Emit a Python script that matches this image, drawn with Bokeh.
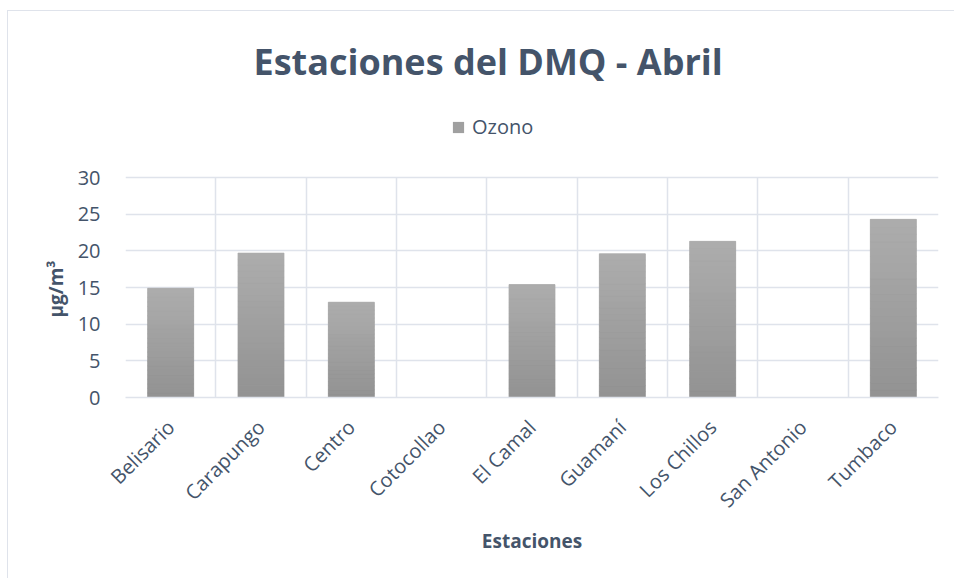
import numpy as np
from bokeh.plotting import figure
from bokeh.models import (Range1d, FixedTicker, Label, Legend, LegendItem, Title)
from bokeh.embed import file_html
from bokeh.resources import INLINE

# ---- data ----
stations = ["Belisario", "Carapungo", "Centro", "Cotocollao", "El Camal",
            "Guamaní", "Los Chillos", "San Antonio", "Tumbaco"]
ozono = [14.9, 19.7, 13.0, np.nan, 15.4, 19.6, 21.3, np.nan, 24.3]
y_ticks = [0, 5, 10, 15, 20, 25, 30]
title_text = "Estaciones del DMQ - Abril"
series_name = "Ozono"
x_title = "Estaciones"
y_title = "µg/m³"

TXT = "#44546A"
GRID = "#dfe3eb"
FONT = "Open Sans"

n = len(stations)
xs = np.arange(n) + 0.5
vals = np.array(ozono, dtype=float)
y_max = y_ticks[-1]

# layout (page pixels): plot area 125..938 x 177..397; figure canvas starts at (8, 11)
W, H = 947, 568
frame_left, frame_right, frame_bottom, plot_top = 125, 938, 397, 177
canvas_x0, canvas_y0 = 8, 11
px_per_y = (frame_bottom - plot_top) / y_max
px_per_x = (frame_right - frame_left) / n
# frame extends up to the canvas top so the title/legend can live inside it
y_end = y_max + (plot_top - canvas_y0) / px_per_y

p = figure(width=W, height=H, output_backend="svg", toolbar_location=None,
           x_range=Range1d(0, n), y_range=Range1d(0, y_end),
           min_border_left=frame_left - canvas_x0,
           min_border_right=W - (frame_right - canvas_x0),
           min_border_top=0,
           min_border_bottom=H - (frame_bottom - canvas_y0),
           background_fill_color="white", border_fill_color="white",
           outline_line_color=None,
           styles={"margin-left": "7px", "margin-top": "10px",
                   "border-left": "1px solid #dfe3eb", "border-top": "1px solid #dfe3eb"})
p.title = None

# full bars (used for legend)
r_bar = p.vbar(x=xs, top=vals, width=0.51, fill_color="#a0a0a0", line_color=None)

# gradient overlay (slices of each bar)
N = 24
top_c = np.array([0xad, 0xad, 0xad], dtype=float)
bot_c = np.array([0x92, 0x92, 0x92], dtype=float)
sx, sb, st, sc = [], [], [], []
for x, v in zip(xs, vals):
    if np.isnan(v):
        continue
    for k in range(N):
        f = (k + 0.5) / N
        c = bot_c + (top_c - bot_c) * f
        col = "#%02x%02x%02x" % tuple(int(round(t)) for t in c)
        sx.append(x); sb.append(v * k / N); st.append(v * (k + 1) / N); sc.append(col)
p.vbar(x=sx, bottom=sb, top=st, width=0.51, fill_color=sc, line_color=sc, line_width=0.6)

# axes
p.yaxis.bounds = (0, y_max)
p.yaxis.ticker = FixedTicker(ticks=y_ticks)
p.yaxis.axis_line_color = None
p.yaxis.major_tick_line_color = None
p.yaxis.minor_tick_line_color = None
p.yaxis.major_label_standoff = 19
p.yaxis.major_label_text_font = FONT
p.yaxis.major_label_text_font_size = "20px"
p.yaxis.major_label_text_color = TXT

p.xaxis.ticker = FixedTicker(ticks=list(xs))
p.xaxis.major_label_overrides = {float(x): s for x, s in zip(xs, stations)}
p.xaxis.major_label_orientation = np.pi / 4
p.xaxis.axis_line_color = GRID
p.xaxis.axis_line_width = 1.5
p.xaxis.major_tick_line_color = None
p.xaxis.minor_tick_line_color = None
p.xaxis.major_label_standoff = 20
p.xaxis.major_label_text_font = FONT
p.xaxis.major_label_text_font_size = "20px"
p.xaxis.major_label_text_color = TXT
p.xaxis.axis_label = x_title
p.xaxis.axis_label_text_font = FONT
p.xaxis.axis_label_text_font_style = "bold"
p.xaxis.axis_label_text_font_size = "19px"
p.xaxis.axis_label_text_color = TXT
p.xaxis.axis_label_standoff = 3

# y-axis title, placed in the left panel next to the axis, centred on the 0..30 span
y_title_len = 60
p.add_layout(Title(text=y_title, align="left",
                   offset=(frame_bottom - plot_top - y_title_len) / 2, standoff=12,
                   text_font=FONT, text_font_style="bold", text_font_size="19px",
                   text_color=TXT), "left")

p.ygrid.ticker = FixedTicker(ticks=y_ticks)
p.ygrid.grid_line_color = GRID
p.ygrid.grid_line_width = 1.5

boundaries = list(range(n + 1))
xg = p.xgrid[0]
if "cross_bounds" in xg.properties():
    xg.ticker = FixedTicker(ticks=boundaries)
    xg.cross_bounds = (0, y_max)
    xg.grid_line_color = GRID
    xg.grid_line_width = 1.5
else:
    xg.visible = False
    p.segment(x0=boundaries, y0=[0] * len(boundaries), x1=boundaries,
              y1=[y_max] * len(boundaries), line_color=GRID, line_width=1.5)
    p.renderers.insert(0, p.renderers.pop())

# title
p.add_layout(Label(x=(253 - frame_left) / px_per_x, y=(frame_bottom - 61) / px_per_y,
                   text=title_text, text_font=FONT, text_font_style="bold",
                   text_font_size="36px", text_color=TXT,
                   text_align="left", text_baseline="middle"))

# legend
legend = Legend(items=[LegendItem(label=series_name, renderers=[r_bar])],
                location=(451 - frame_left, frame_bottom - 140), orientation="horizontal",
                padding=0, margin=0, spacing=0, border_line_color=None,
                background_fill_alpha=0, glyph_width=14, glyph_height=14,
                label_standoff=7, label_height=20,
                label_text_font=FONT, label_text_font_size="20px", label_text_color=TXT)
p.add_layout(legend)

open("out.html", "w").write(file_html(p, INLINE))
